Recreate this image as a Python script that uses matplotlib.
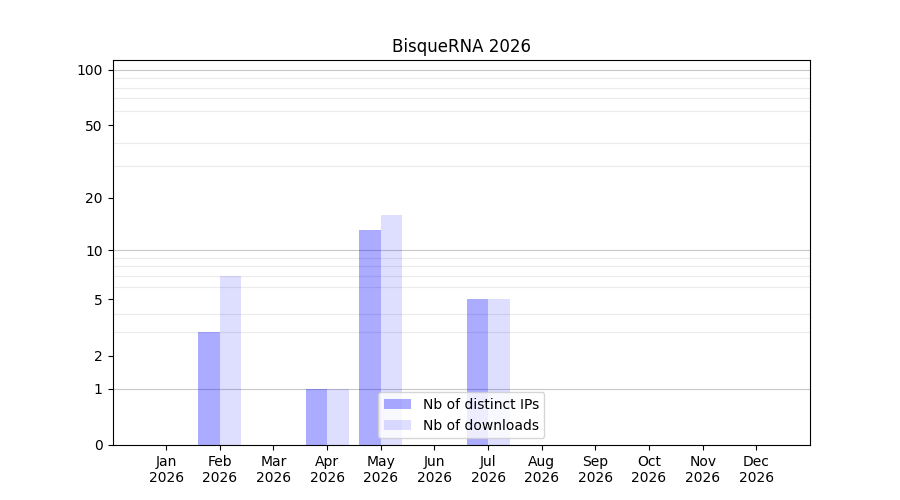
import matplotlib
matplotlib.use("Agg")
import matplotlib.pyplot as plt
import numpy as np
from matplotlib.ticker import FixedLocator, NullFormatter

months = ["Jan\n2026", "Feb\n2026", "Mar\n2026", "Apr\n2026", "May\n2026", "Jun\n2026",
          "Jul\n2026", "Aug\n2026", "Sep\n2026", "Oct\n2026", "Nov\n2026", "Dec\n2026"]
distinct_ips = [0, 3, 0, 1, 13, 0, 5, 0, 0, 0, 0, 0]
downloads = [0, 7, 0, 1, 16, 0, 5, 0, 0, 0, 0, 0]
y_ticks = [0, 1, 2, 5, 10, 20, 50, 100]
decades = [1, 10, 100]
minor_ticks = [2, 3, 4, 5, 6, 7, 8, 9, 20, 30, 40, 50, 60, 70, 80, 90]


def fwd(y):
    return np.log10(np.clip(y, 0, None) + 1)


def inv(y):
    return 10 ** y - 1


fig, ax = plt.subplots(figsize=(9, 5), dpi=100)
x = np.arange(len(months))
ax.set_yscale("function", functions=(fwd, inv))
ax.set_axisbelow(True)
ax.bar(x - 0.2, distinct_ips, width=0.4, color="blue", alpha=0.33, label="Nb of distinct IPs")
ax.bar(x + 0.2, downloads, width=0.4, color="blue", alpha=0.13, label="Nb of downloads")

ax.yaxis.set_major_locator(FixedLocator(y_ticks))
ax.set_yticklabels([str(t) for t in y_ticks])
ax.yaxis.set_minor_locator(FixedLocator(minor_ticks))
ax.yaxis.set_minor_formatter(NullFormatter())
ax.tick_params(axis="y", which="minor", length=0)
ax.grid(True, axis="y", which="minor", color="#ebebeb", linewidth=0.8)
for d in decades:
    ax.axhline(d, color="#c8c8c8", linewidth=0.8, zorder=0.5)

ax.set_xticks(x)
ax.set_xticklabels(months)
ax.set_xlim(-1, 12)
ax.set_ylim(0, 113)
ax.set_title("BisqueRNA 2026")
ax.legend(loc="lower center")

fig.savefig("out.png", dpi=100)
